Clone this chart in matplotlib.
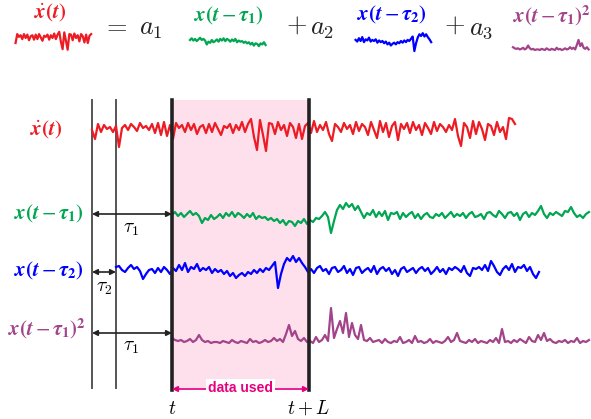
import numpy as np
import matplotlib
matplotlib.use("Agg")
import matplotlib.pyplot as plt
from matplotlib.patches import FancyArrowPatch

# ---------------- data (offsets in px, up = positive) ----
red_vals = [0, -9, 6, -2, 5, 1, 3, -2, 4, -17,
            2, 5, 0, 6, 3, -1, 7, 2, 4, 0,
            6, -3, 7, -5, 8, -6, 5, -9, 7, 2,
            5, -2, 7, 0, 6, -4, 3, 5, -3, 6,
            -2, 7, 1, -5, 4, 2, 6, -3, 5, 0,
            8, -2, 6, 11, -7, -20, 10, -5, -21, 7,
            6, -4, 8, 0, 5, -6, 7, 3, -8, 6,
            -9, 4, 7, -3, 9, -2, 5, 0, 8, -4,
            -11, 6, 3, -2, 7, 1, 5, -4, 8, -1,
            6, 3, -5, 8, 0, -8, 9, -2, 7, -7,
            4, 8, -10, 6, 1, 7, -3, 8, 0, 5,
            -5, 7, 2, -4, 8, -1, 6, 3, -2, 5,
            0, 11, -6, -16, 7, 3, -8, 9, -4, 8,
            1, -10, 6, 4, -5, 8, -2, 3, -9, 12,
            11, 6]
green_vals = [0, 3, -1, 2, -2, 1, 4, 0, 2, -1,
              -8, -3, -5, 0, -4, -2, 1, -3, 2, -1,
              3, -2, 2, 0, -3, 1, -2, 2, -4, -1,
              -3, -2, -5, -3, -6, -4, -8, -5, -10, -6,
              -7, -11, -6, -8, -4, -9, -5, -7, -3, -4,
              -1, 3, -2, -18, -6, 5, 10, 6, 12, 8,
              11, 5, 9, 3, -3, 2, 0, 5, -2, 3,
              -1, 4, -5, 2, 1, 3, -4, 2, -2, 1,
              3, -3, 1, -4, 0, 2, -2, -3, 1, -1,
              2, -3, 0, 3, -2, 1, -1, 2, -3, 1,
              3, -2, -1, 1, -4, 2, 3, 0, -2, 4,
              1, -3, 2, 3, -1, 2, -5, 1, 3, -2,
              2, 0, 4, 9, 1, -3, 2, 0, 3, 1,
              -1, 4, 3, 8, 2, -2, 0, -3, 1, 3]
blue_vals = [3, 4, 0, -2, 2, 5, 1, 3, -1, -9,
             -4, 0, 1, -3, 2, -2, 3, 0, -4, 2,
             -1, 5, 0, 7, -2, 3, 1, 6, -1, 2,
             0, 3, -3, 1, -2, 0, -4, -1, -6, -3,
             -8, -5, -3, -6, -2, -4, 0, -3, 1, -2,
             2, 0, 4, 8, -18, -4, 6, 12, 9, 14,
             8, 12, 7, 3, -2, 1, -3, 2, 4, -1,
             1, -4, 2, 3, -2, 0, 4, -3, 1, -5,
             2, 3, -3, 0, 2, -2, 4, -4, 1, 3,
             -1, 2, -4, 0, -6, 1, 3, -2, 0, 2,
             -3, 1, 3, -1, 2, -4, -1, 3, -2, 1,
             -4, 2, 0, 3, 1, -2, 4, -3, -6, 2,
             1, 3, 0, 5, -1, 9, 4, -2, -5, 1,
             4, 0, 6, -2, 3, 2, 5, -1, 3, -4,
             -8, -2]
purple_vals = [5, 3, 2, 3, 1, 2, 4, 1, 3, 8,
               3, 1, 2, 0, 1, 1, 0, 2, 1, 0,
               3, 1, 0, 2, 1, 0, 4, 1, 2, 0,
               1, 3, 1, 2, 5, 2, 4, 1, 9, 18,
               7, 12, 4, 2, 5, 1, 2, 0, 6, 1,
               3, 8, 2, 35, 5, 14, 22, 10, 30, 6,
               20, 8, 4, 18, 3, 2, 5, 1, 2, 3,
               0, 4, 1, 0, 2, 1, 6, 0, 1, 3,
               0, 7, 1, 2, 0, 1, 4, 0, 2, 1,
               0, 2, 6, 1, 3, 10, 2, 1, 0, 3,
               1, 4, 0, 2, 1, 0, 3, 1, 5, 0,
               14, 1, 2, 0, 3, 1, 4, 2, 0, 6,
               2, 1, 8, 3, 10, 2, 4, 1, 0, 2,
               1, 3, 0, 2, 1, 5, 0, 2, 1, 3]

row_labels = [r"$\dot{\mathbfit{x}}\mathbf{(}\mathbfit{t}\mathbf{)}$",
              r"$\mathbfit{x}\mathbf{(}\mathbfit{t}-\mathbfit{\tau}_{\mathbf{1}}\mathbf{)}$",
              r"$\mathbfit{x}\mathbf{(}\mathbfit{t}-\mathbfit{\tau}_{\mathbf{2}}\mathbf{)}$",
              r"$\mathbfit{x}\mathbf{(}\mathbfit{t}-\mathbfit{\tau}_{\mathbf{1}}\mathbf{)}^{\mathbf{2}}$"]
coef_labels = [r"$a_1$", r"$a_2$", r"$a_3$"]
colors = ["#ed1c24", "#00a651", "#0000ff", "#a3448a"]

# ---------------- layout ----------------
W, H = 591, 419
fig = plt.figure(figsize=(W / 100, H / 100), dpi=100)
ax = fig.add_axes([0, 0, 1, 1])
ax.set_xlim(0, W)
ax.set_ylim(H, 0)
ax.axis("off")

xa, xb, xt, xL = 92, 116, 172, 309
ytop, ybot = 100, 390
step = 3

ax.axvspan(xt, xL, ymin=1 - ybot / H, ymax=1 - ytop / H, color="#fde0ec", lw=0, zorder=0)
for x in (xa, xb):
    ax.plot([x, x], [ytop, 388], color="#555555", lw=1.4, zorder=1)
for x in (xt, xL):
    ax.plot([x, x], [ytop, ybot], color="#222222", lw=2.6, zorder=4)

series = [(red_vals, xa, 130), (green_vals, xt, 215),
          (blue_vals, xb, 270), (purple_vals, xt, 343)]
label_pos = [(46, 130, "center"), (84, 214, "right"), (84, 271, "right"), (86, 329, "right")]

mini = [(15, 38), (190, 40), (355, 41), (513, 50)]
top_lab = [(50, 13), (229, 16), (392, 15), (552, 16)]
sc = 0.56

for k, (vals, x0, yc) in enumerate(series):
    v = np.asarray(vals, float)
    xs = x0 + step * np.arange(len(v))
    ax.plot(xs, yc - v, color=colors[k], lw=1.6, zorder=3)
    lx, ly, ha = label_pos[k]
    ax.text(lx, ly, row_labels[k], color=colors[k], fontsize=15, ha=ha, va="center",
            math_fontfamily="stix")
    m = (xs >= xt) & (xs <= xL)
    mx0, myc = mini[k]
    ax.plot(mx0 + (xs[m] - xt) * sc, myc - v[m] * sc, color=colors[k], lw=1.6)
    tx, ty = top_lab[k]
    ax.text(tx, ty, row_labels[k], color=colors[k], fontsize=15, ha="center", va="center",
            math_fontfamily="stix")

# equation glyphs
eq_kw = dict(fontsize=19, ha="center", va="center", math_fontfamily="cm", color="#222222")
ax.text(115, 26, r"$=$", **eq_kw)
ax.text(151, 28, coef_labels[0], **eq_kw)
ax.text(296, 25, r"$+$", **eq_kw)
ax.text(322, 28, coef_labels[1], **eq_kw)
ax.text(454, 25, r"$+$", **eq_kw)
ax.text(481, 28, coef_labels[2], **eq_kw)

# tau arrows
def harrow(x0, x1, y, color="#222222"):
    a = FancyArrowPatch((x0, y), (x1, y), arrowstyle="<|-|>", mutation_scale=8,
                        color=color, lw=1.2, shrinkA=0, shrinkB=0, zorder=5)
    ax.add_patch(a)

harrow(xa, xt, 214)
ax.text(131, 228, r"$\tau_1$", fontsize=14, ha="center", va="center", math_fontfamily="cm")
harrow(xa, xb, 272)
ax.text(104, 287, r"$\tau_2$", fontsize=14, ha="center", va="center", math_fontfamily="cm")
harrow(xa, xt, 333)
ax.text(131, 346, r"$\tau_1$", fontsize=14, ha="center", va="center", math_fontfamily="cm")

# data used
harrow(xt, xL, 389, color="#e6007e")
ax.text((xt + xL) / 2, 388, "data used", fontsize=10, fontweight="bold", color="#e6007e",
        family="Liberation Sans", ha="center", va="center",
        bbox=dict(boxstyle="square,pad=0.15", fc="white", ec="none"), zorder=6)

ax.text(xt, 408, r"$t$", fontsize=14, ha="center", va="center", math_fontfamily="cm")
ax.text(xL, 408, r"$t+L$", fontsize=14, ha="center", va="center", math_fontfamily="cm")

fig.savefig("out.png", dpi=100)
